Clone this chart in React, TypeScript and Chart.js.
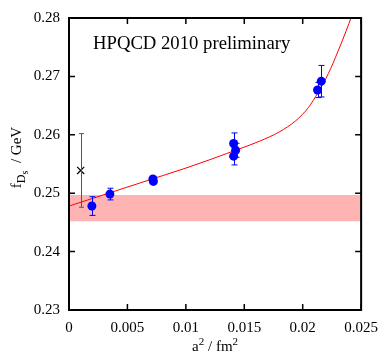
import React, { useEffect, useRef } from "react";
import { Chart, registerables } from "chart.js";

Chart.register(...registerables);

const FONT = "'Liberation Serif', 'Times New Roman', serif";

const X_TICKS = [0, 0.005, 0.01, 0.015, 0.02, 0.025];
const X_TICK_LABELS = ["0", "0.005", "0.01", "0.015", "0.02", "0.025"];
const Y_TICKS = [0.23, 0.24, 0.25, 0.26, 0.27, 0.28];
const Y_TICK_LABELS = ["0.23", "0.24", "0.25", "0.26", "0.27", "0.28"];

// lattice points (blue)
const LATTICE_A2 = [0.00196, 0.0035, 0.00718, 0.00722, 0.01409, 0.01426, 0.01409, 0.02127, 0.02159];
const LATTICE_F = [0.2478, 0.24985, 0.25245, 0.25202, 0.25852, 0.25735, 0.25634, 0.26767, 0.26918];
const LATTICE_ERR = [0.0016, 0.001, 0.0004, 0.0004, 0.0018, 0.0012, 0.0015, 0.0013, 0.0027];

// experiment point (black cross)
const EXPT_A2 = [0.001];
const EXPT_F = [0.2539];
const EXPT_ERR = [0.0063];

// fit curve (red)
const FIT_A2 = [0, 0.002, 0.004, 0.006, 0.008, 0.01, 0.012, 0.0135, 0.0146, 0.0163, 0.018, 0.0194, 0.0205, 0.0213, 0.0222, 0.023, 0.0237, 0.0242, 0.0246];
const FIT_F = [0.2478, 0.2491, 0.2504, 0.2517, 0.253, 0.2543, 0.2557, 0.2568, 0.2576, 0.2589, 0.2605, 0.2624, 0.2647, 0.2672, 0.2705, 0.2742, 0.2777, 0.2804, 0.2829];

// continuum band (pink)
const BAND_A2 = [0, 0.025];
const BAND_LO = [0.2452, 0.2452];
const BAND_HI = [0.2497, 0.2497];

const TITLE_TEXT = "HPQCD 2010 preliminary";

const pts = (xs: number[], ys: number[]) => xs.map((x, i) => ({ x, y: ys[i] }));

const decorPlugin = {
  id: "decor",
  afterDatasetsDraw(chart: any) {
    const ctx = chart.ctx;
    const xs = chart.scales.x;
    const ys = chart.scales.y;
    ctx.save();
    ctx.lineWidth = 1;
    // blue error bars
    ctx.strokeStyle = "#0000ff";
    LATTICE_A2.forEach((a, i) => {
      const px = Math.round(xs.getPixelForValue(a)) + 0.5;
      const top = ys.getPixelForValue(LATTICE_F[i] + LATTICE_ERR[i]);
      const bot = ys.getPixelForValue(LATTICE_F[i] - LATTICE_ERR[i]);
      ctx.beginPath();
      ctx.moveTo(px, top);
      ctx.lineTo(px, bot);
      ctx.moveTo(px - 3, top);
      ctx.lineTo(px + 3, top);
      ctx.moveTo(px - 3, bot);
      ctx.lineTo(px + 3, bot);
      ctx.stroke();
    });
    // grey error bar on the experimental point
    ctx.strokeStyle = "#555555";
    EXPT_A2.forEach((a, i) => {
      const px = Math.round(xs.getPixelForValue(a)) + 0.5;
      const top = ys.getPixelForValue(EXPT_F[i] + EXPT_ERR[i]);
      const bot = ys.getPixelForValue(EXPT_F[i] - EXPT_ERR[i]);
      ctx.beginPath();
      ctx.moveTo(px, top);
      ctx.lineTo(px, bot);
      ctx.moveTo(px - 2.5, top);
      ctx.lineTo(px + 2.5, top);
      ctx.moveTo(px - 2.5, bot);
      ctx.lineTo(px + 2.5, bot);
      ctx.stroke();
    });
    ctx.restore();
  },
  afterDraw(chart: any) {
    const ctx = chart.ctx;
    const { left, right, top, bottom } = chart.chartArea;
    const xs = chart.scales.x;
    const ys = chart.scales.y;
    ctx.save();
    // frame
    ctx.strokeStyle = "#000";
    ctx.lineWidth = 2;
    ctx.strokeRect(left, top, right - left, bottom - top);
    // inward ticks on all four sides
    ctx.lineWidth = 1.5;
    ctx.beginPath();
    X_TICKS.forEach((v) => {
      const px = xs.getPixelForValue(v);
      ctx.moveTo(px, bottom);
      ctx.lineTo(px, bottom - 6);
      ctx.moveTo(px, top);
      ctx.lineTo(px, top + 6);
    });
    Y_TICKS.forEach((v) => {
      const py = ys.getPixelForValue(v);
      ctx.moveTo(left, py);
      ctx.lineTo(left + 6, py);
      ctx.moveTo(right, py);
      ctx.lineTo(right - 6, py);
    });
    ctx.stroke();

    ctx.fillStyle = "#000";
    ctx.textBaseline = "alphabetic";
    ctx.textAlign = "left";
    // title inside plot
    ctx.font = `18.7px ${FONT}`;
    ctx.fillText(TITLE_TEXT, 93, 48.5);

    // x axis title: a^2 / fm^2
    const xParts = [
      { t: "a", s: 15, dy: 0 },
      { t: "2", s: 11, dy: -6 },
      { t: " / fm", s: 15, dy: 0 },
      { t: "2", s: 11, dy: -6 },
    ];
    let w = 0;
    xParts.forEach((p) => {
      ctx.font = `${p.s}px ${FONT}`;
      w += ctx.measureText(p.t).width;
    });
    let cx = (left + right) / 2 - w / 2;
    const xBase = 351;
    xParts.forEach((p) => {
      ctx.font = `${p.s}px ${FONT}`;
      ctx.fillText(p.t, cx, xBase + p.dy);
      cx += ctx.measureText(p.t).width;
    });

    // y axis title: f_{D_s} / GeV (rotated)
    const yParts = [
      { t: "f", s: 15, dy: 0 },
      { t: "D", s: 12, dy: 4 },
      { t: "s", s: 10, dy: 7 },
      { t: "  / GeV", s: 15, dy: 0 },
    ];
    let wy = 0;
    yParts.forEach((p) => {
      ctx.font = `${p.s}px ${FONT}`;
      wy += ctx.measureText(p.t).width;
    });
    ctx.translate(21, 157.5 + wy / 2);
    ctx.rotate(-Math.PI / 2);
    let cy = 0;
    yParts.forEach((p) => {
      ctx.font = `${p.s}px ${FONT}`;
      ctx.fillText(p.t, cy, p.dy);
      cy += ctx.measureText(p.t).width;
    });
    ctx.restore();
  },
};

export default function App() {
  const ref = useRef<HTMLCanvasElement>(null);
  useEffect(() => {
    document.body.style.margin = "0";
    const chart = new Chart(ref.current as HTMLCanvasElement, {
      type: "scatter",
      data: {
        datasets: [
          {
            label: "band-lo",
            type: "line",
            data: pts(BAND_A2, BAND_LO),
            borderWidth: 0,
            pointRadius: 0,
            fill: false,
            order: 10,
          },
          {
            label: "band-hi",
            type: "line",
            data: pts(BAND_A2, BAND_HI),
            borderWidth: 0,
            pointRadius: 0,
            backgroundColor: "#ffb4b4",
            fill: "-1",
            order: 9,
          },
          {
            label: "fit",
            type: "line",
            data: pts(FIT_A2, FIT_F),
            borderColor: "#ff0000",
            borderWidth: 1,
            pointRadius: 0,
            cubicInterpolationMode: "monotone",
            fill: false,
            order: 5,
          },
          {
            label: "expt",
            data: pts(EXPT_A2, EXPT_F),
            pointStyle: "crossRot",
            pointRadius: 5,
            borderColor: "#000",
            borderWidth: 1.2,
            order: 3,
          },
          {
            label: "lattice",
            data: pts(LATTICE_A2, LATTICE_F),
            pointStyle: "circle",
            pointRadius: 4.5,
            backgroundColor: "#0000ff",
            borderColor: "#0000ff",
            borderWidth: 0,
            order: 1,
          },
        ],
      } as any,
      options: {
        animation: false,
        responsive: false,
        devicePixelRatio: 1,
        layout: { padding: { top: 12, right: 20, left: 0, bottom: 0 } },
        plugins: { legend: { display: false }, tooltip: { enabled: false } },
        font: { family: FONT } as any,
        scales: {
          x: {
            type: "linear",
            min: 0,
            max: 0.025,
            grid: { display: false, drawTicks: false },
            border: { display: false },
            ticks: {
              color: "#000",
              font: { family: FONT, size: 15 },
              padding: 9,
              maxRotation: 0,
              autoSkip: false,
              callback: (v: any) => {
                const i = X_TICKS.findIndex((t) => Math.abs(t - v) < 1e-9);
                return i >= 0 ? X_TICK_LABELS[i] : "";
              },
            },
            afterBuildTicks: (s: any) => {
              s.ticks = X_TICKS.map((v) => ({ value: v }));
            },
            afterFit: (s: any) => {
              s.height = 46;
            },
          },
          y: {
            type: "linear",
            min: 0.23,
            max: 0.28,
            grid: { display: false, drawTicks: false },
            border: { display: false },
            ticks: {
              color: "#000",
              font: { family: FONT, size: 15 },
              padding: 9,
              autoSkip: false,
              callback: (v: any) => {
                const i = Y_TICKS.findIndex((t) => Math.abs(t - v) < 1e-9);
                return i >= 0 ? Y_TICK_LABELS[i] : "";
              },
            },
            afterBuildTicks: (s: any) => {
              s.ticks = Y_TICKS.map((v) => ({ value: v }));
            },
            afterFit: (s: any) => {
              s.width = 69;
            },
          },
        },
      } as any,
      plugins: [decorPlugin],
    });
    return () => chart.destroy();
  }, []);
  return (
    <div style={{ width: 387, height: 356 }}>
      <canvas ref={ref} width={387} height={356} style={{ display: "block" }} />
    </div>
  );
}
